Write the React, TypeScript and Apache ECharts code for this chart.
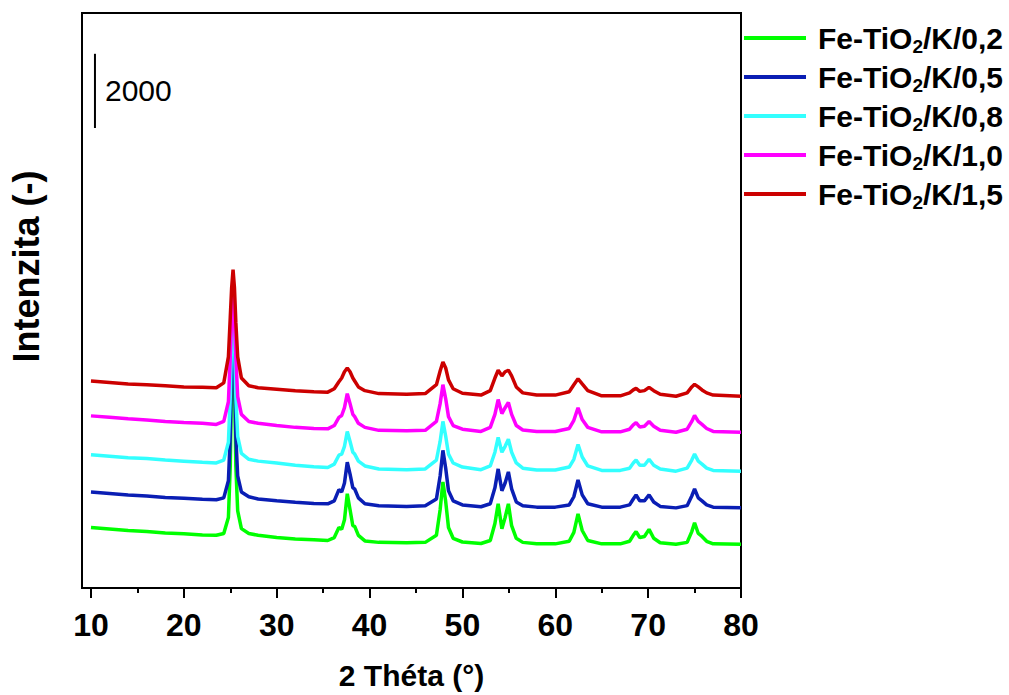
import React, { useEffect, useRef } from "react";
import * as echarts from "echarts";

// 2θ positions (degrees) shared by all patterns
const twoTheta = [
  10, 12, 14, 16, 18, 20, 22, 23.5, 24.3, 24.8,
  25.0, 25.15, 25.3, 25.45, 25.6, 25.8, 26.2, 27, 28, 30,
  32, 34, 35.5, 36.2, 36.7, 37.0, 37.3, 37.6, 37.9, 38.2,
  38.4, 38.8, 39.5, 41, 44, 46, 47.2, 47.6, 47.9, 48.2,
  48.5, 49, 50, 52, 53.0, 53.5, 53.85, 54.25, 54.6, 54.95,
  55.3, 55.8, 56.5, 58, 60, 61.5, 62.0, 62.45, 62.9, 63.5,
  65, 67, 68.0, 68.4, 68.7, 69.1, 69.6, 70.1, 70.6, 71.3,
  73, 74.2, 74.7, 75.0, 75.4, 75.8, 76.3, 77, 80,
];

// Intensities (stacked)
const k02 = [
  1630, 1590, 1550, 1520, 1480, 1460, 1430, 1420, 1470, 1900,
  3290, 5690, 7990, 5690, 3290, 2080, 1600, 1470, 1420, 1360,
  1320, 1300, 1280, 1360, 1630, 1580, 1840, 2540, 2110, 1680,
  1660, 1420, 1270, 1230, 1220, 1230, 1420, 2110, 2860, 2330,
  1630, 1340, 1240, 1200, 1280, 1740, 2270, 1600, 1900, 2270,
  1680, 1340, 1230, 1190, 1190, 1260, 1500, 2000, 1550, 1280,
  1190, 1190, 1260, 1420, 1520, 1360, 1390, 1580, 1340, 1220,
  1180, 1230, 1520, 1760, 1470, 1390, 1260, 1190, 1180,
];
const k05 = [
  2590, 2550, 2510, 2480, 2440, 2420, 2390, 2380, 2430, 2890,
  4090, 6230, 8100, 6230, 4090, 3020, 2590, 2460, 2400, 2350,
  2310, 2280, 2270, 2350, 2650, 2590, 2830, 3390, 3070, 2700,
  2670, 2430, 2270, 2220, 2200, 2220, 2400, 3020, 3710, 3230,
  2620, 2350, 2240, 2190, 2270, 2700, 3210, 2620, 2830, 3130,
  2670, 2320, 2220, 2180, 2180, 2240, 2460, 2910, 2510, 2270,
  2180, 2180, 2240, 2400, 2510, 2350, 2350, 2510, 2320, 2200,
  2160, 2220, 2480, 2670, 2430, 2350, 2240, 2180, 2160,
];
const k08 = [
  3590, 3550, 3510, 3490, 3450, 3420, 3390, 3370, 3450, 3930,
  5160, 6760, 8200, 6760, 5160, 4090, 3630, 3470, 3420, 3370,
  3310, 3270, 3250, 3340, 3580, 3610, 3820, 4220, 3950, 3660,
  3610, 3420, 3290, 3210, 3190, 3210, 3450, 3950, 4490, 4090,
  3610, 3370, 3260, 3190, 3290, 3660, 4060, 3660, 3820, 4010,
  3660, 3370, 3230, 3180, 3180, 3260, 3470, 3870, 3530, 3290,
  3170, 3170, 3230, 3370, 3450, 3310, 3310, 3470, 3310, 3210,
  3150, 3230, 3450, 3610, 3420, 3340, 3230, 3170, 3150,
];
const k10 = [
  4640, 4600, 4560, 4530, 4490, 4460, 4440, 4410, 4490, 5020,
  6230, 7290, 8360, 7290, 6230, 5160, 4680, 4490, 4440, 4380,
  4330, 4300, 4290, 4380, 4600, 4650, 4860, 5240, 4970, 4680,
  4620, 4440, 4330, 4250, 4240, 4250, 4490, 4970, 5480, 5100,
  4620, 4380, 4280, 4220, 4330, 4680, 5080, 4700, 4860, 5000,
  4680, 4380, 4260, 4220, 4220, 4300, 4520, 4860, 4540, 4330,
  4210, 4210, 4280, 4400, 4460, 4340, 4360, 4490, 4360, 4250,
  4200, 4280, 4490, 4650, 4490, 4410, 4300, 4220, 4200,
];
const k15 = [
  5580, 5540, 5500, 5480, 5450, 5420, 5410, 5400, 5530, 6230,
  7290, 8100, 8580, 8100, 7160, 6230, 5660, 5450, 5400, 5360,
  5320, 5290, 5280, 5370, 5560, 5660, 5830, 5930, 5830, 5660,
  5580, 5420, 5320, 5240, 5220, 5240, 5480, 5850, 6090, 5930,
  5610, 5370, 5250, 5200, 5320, 5660, 5870, 5720, 5830, 5870,
  5720, 5420, 5260, 5200, 5200, 5290, 5480, 5640, 5500, 5320,
  5180, 5180, 5260, 5340, 5380, 5300, 5320, 5410, 5320, 5220,
  5170, 5260, 5420, 5490, 5420, 5340, 5260, 5200, 5170,
];

const sampleSuffix = ["0,2", "0,5", "0,8", "1,0", "1,5"];
const seriesNames = sampleSuffix.map((s) => `Fe-TiO2/K/${s}`);
const seriesValues = [k02, k05, k08, k10, k15];
const seriesColors = ["#00ff00", "#0a1eb4", "#33ffff", "#ff00ff", "#cc0000"];

const majorTicks = [10, 20, 30, 40, 50, 60, 70, 80];
const minorTicks = [15, 25, 35, 45, 55, 65, 75];

// scale bar (2000 counts)
const scaleBarX = 10.43;
const scaleBarFrom = 12400;
const scaleBarTo = 14400;
const scaleBarLabel = "2000";

const X_MIN = 9.034;
const X_MAX = 80;
const Y_MIN = 0;
const Y_MAX = 15500;

const SANS = '"Liberation Sans", Arial, Helvetica, sans-serif';

export default function App() {
  const ref = useRef<HTMLDivElement>(null);

  useEffect(() => {
    if (!ref.current) return;
    const chart = echarts.init(ref.current, undefined, { renderer: "svg" });

    const lineSeries = seriesNames.map((name, i) => ({
      name,
      type: "line",
      data: twoTheta.map((x, j) => [x, seriesValues[i][j]]),
      showSymbol: false,
      symbol: "none",
      lineStyle: { color: seriesColors[i], width: 3.5 },
      itemStyle: { color: seriesColors[i] },
      z: 2 + i,
    }));

    const option = {
      animation: false,
      backgroundColor: "#ffffff",
      grid: {
        left: 80,
        top: 13,
        width: 661,
        height: 580,
        show: true,
        borderColor: "#000",
        borderWidth: 2,
        backgroundColor: "transparent",
      },
      legend: {
        orient: "vertical",
        left: 744,
        top: 23,
        padding: 0,
        itemGap: 6,
        itemWidth: 62,
        itemHeight: 4,
        icon: "rect",
        data: seriesNames,
        formatter: (name: string) => {
          const suffix = name.split("/K/")[1];
          return `{a|Fe-TiO}{s|2}{a|/K/${suffix}}`;
        },
        textStyle: {
          color: "#000",
          padding: [0, 0, 0, 7],
          rich: {
            a: { fontSize: 30, fontWeight: "bold", fontFamily: SANS, lineHeight: 36, color: "#000" },
            s: { fontSize: 19, fontWeight: "bold", fontFamily: SANS, lineHeight: 10, verticalAlign: "bottom", color: "#000" },
          },
        },
      },
      xAxis: [
        {
          type: "value",
          min: X_MIN,
          max: X_MAX,
          axisLine: { show: true, lineStyle: { color: "#000", width: 2 } },
          axisTick: { show: true, customValues: majorTicks, length: 10, lineStyle: { color: "#000", width: 2 } },
          axisLabel: {
            customValues: majorTicks,
            fontFamily: SANS,
            fontWeight: "bold",
            fontSize: 32,
            color: "#000",
            margin: 21,
          },
          splitLine: { show: false },
          name: "2 Théta (°)",
          nameLocation: "middle",
          nameGap: 72,
          nameTextStyle: { fontFamily: SANS, fontWeight: "bold", fontSize: 30, color: "#000" },
        },
        {
          type: "value",
          min: X_MIN,
          max: X_MAX,
          position: "bottom",
          axisLine: { show: false },
          axisTick: { show: true, customValues: minorTicks, length: 5, lineStyle: { color: "#000", width: 2 } },
          axisLabel: { show: false },
          splitLine: { show: false },
        },
      ],
      yAxis: {
        type: "value",
        min: Y_MIN,
        max: Y_MAX,
        axisLine: { show: false },
        axisTick: { show: false },
        axisLabel: { show: false },
        splitLine: { show: false },
        name: "Intenzita (-)",
        nameLocation: "middle",
        nameRotate: 90,
        nameGap: 38,
        nameTextStyle: {
          fontFamily: SANS,
          fontWeight: "bold",
          fontSize: 36,
          color: "#000",
          padding: [0, 0, 0, 68],
        },
      },
      series: [
        ...lineSeries,
        {
          name: "scale",
          type: "line",
          data: [
            [scaleBarX, scaleBarFrom],
            [scaleBarX, scaleBarTo],
          ],
          showSymbol: false,
          symbol: "none",
          lineStyle: { color: "#000", width: 2 },
          z: 10,
        },
        {
          name: "scaleLabel",
          type: "scatter",
          data: [[scaleBarX, (scaleBarFrom + scaleBarTo) / 2]],
          symbolSize: 0,
          itemStyle: { opacity: 1, color: "#000" },
          label: {
            show: true,
            position: "right",
            distance: 10,
            formatter: scaleBarLabel,
            fontFamily: SANS,
            fontSize: 30,
            color: "#000",
            opacity: 1,
          },
          z: 10,
        },
      ],
    };

    chart.setOption(option as any);
    return () => chart.dispose();
  }, []);

  return (
    <div
      ref={ref}
      style={{ position: "fixed", left: 0, top: 0, width: 1009, height: 695, background: "#fff" }}
    />
  );
}
